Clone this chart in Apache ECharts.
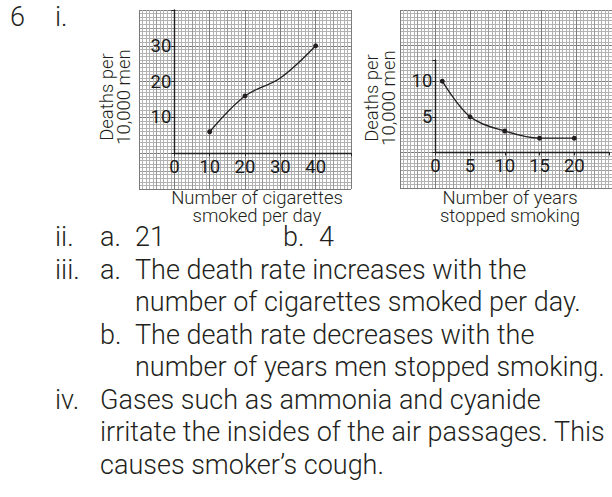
<!DOCTYPE html>
<html>
<head>
<meta charset="utf-8">
<script src="https://cdn.jsdelivr.net/npm/echarts@6/dist/echarts.min.js"></script>
<style>
  html, body { margin: 0; padding: 0; background: #fff; }
  #chart { width: 612px; height: 497px; }
</style>
</head>
<body>
<div id="chart"></div>
<script>
// Graph 1: deaths vs cigarettes smoked per day
const cigarettes = [10, 20, 30, 40];
const deathsByCigarettes = [6, 16, 21, 30];
const cigarettesMarked = [true, true, false, true];
const cigTicksX = [0, 10, 20, 30, 40];
const cigTicksY = [10, 20, 30];

// Graph 2: deaths vs years since stopping
const yearsStopped = [1, 5, 10, 15, 20];
const deathsByYears = [10, 5, 3, 2, 2];
const yearTicksX = [0, 5, 10, 15, 20];
const yearTicksY = [5, 10];

const FONT = 'Roboto, "Liberation Sans", sans-serif';
const INK = '#231f20';

const chart = echarts.init(document.getElementById('chart'), null, { renderer: 'svg' });

// graph paper: 60 x 50 small squares, darker every 5th and 10th line
const paperColors = ['#7c7c7c', '#b2b2b2', '#b2b2b2', '#b2b2b2', '#b2b2b2',
                     '#9a9a9a', '#b2b2b2', '#b2b2b2', '#b2b2b2', '#b2b2b2'];
function paperAxis(max, gridIndex) {
  return {
    type: 'value', gridIndex, min: 0, max, interval: 1, z: 0,
    axisLine: { show: false }, axisTick: { show: false }, axisLabel: { show: false },
    splitLine: { show: true, lineStyle: { color: paperColors, width: 1 } }
  };
}

function labelStyle(ticks, margin) {
  return {
    show: true, margin, color: '#1a1a1a', fontFamily: FONT, fontSize: 18.5, fontWeight: 400,
    formatter: v => (ticks.indexOf(v) >= 0 ? String(v) : '')
  };
}
function dataAxis(gridIndex, max, interval, ticks, margin) {
  return {
    type: 'value', gridIndex, min: 0, max, interval, z: 5,
    axisLine: { show: true, onZero: false, lineStyle: { color: INK, width: 1.4 } },
    axisTick: { show: true, inside: false, length: 3, lineStyle: { color: INK, width: 1 } },
    axisLabel: labelStyle(ticks, margin),
    splitLine: { show: false }
  };
}

const SQ_W = 212 / 60;
const leftPaper = { left: 139, top: 10, width: 212, height: 179 };
const rightPaper = { left: 400, top: 10, width: 212, height: 178 };
const sqHL = leftPaper.height / 50;
const sqHR = rightPaper.height / 50;
const leftData = {
  left: leftPaper.left + 10 * SQ_W, top: leftPaper.top,
  width: 50 * SQ_W, height: 40 * sqHL
};
const rightYMax = 13;
const rightData = {
  left: rightPaper.left + 10 * SQ_W,
  top: rightPaper.top + 40 * sqHR - rightYMax * 2 * sqHR,
  width: 50 * SQ_W, height: rightYMax * 2 * sqHR
};

function curve(xs, ys, marked, xi, yi, smooth) {
  return {
    type: 'line', xAxisIndex: xi, yAxisIndex: yi,
    data: xs.map((x, i) => ({
      value: [x, ys[i]],
      symbol: marked && !marked[i] ? 'none' : 'circle'
    })),
    smooth, symbolSize: 5, showSymbol: true,
    lineStyle: { color: INK, width: 1.3 },
    itemStyle: { color: INK },
    z: 6, animation: false
  };
}

const textEl = (txt, x, y, size, extra) => ({
  type: 'text', x, y, z: 10,
  style: Object.assign({
    text: txt, fill: INK, font: `300 ${size}px ${FONT}`, verticalAlign: 'middle'
  }, extra || {})
});

const body = [
  ['6', 10, 17], ['i.', 55, 17],
  ['ii.', 55, 237], ['a.', 100, 237], ['21', 135, 237], ['b.', 283, 237], ['4', 319, 237],
  ['iii.', 55, 270], ['a.', 100, 270], ['The death rate increases with the', 135, 270],
  ['number of cigarettes smoked per day.', 135, 302],
  ['b.', 100, 335], ['The death rate decreases with the', 135, 335],
  ['number of years men stopped smoking.', 135, 367],
  ['iv.', 55, 400], ['Gases such as ammonia and cyanide', 100, 400],
  ['irritate the insides of the air passages. This', 100, 432],
  ['causes smoker\u2019s cough.', 100, 465]
];

const graphics = body.map(([t, x, y]) => textEl(t, x, y, 27, { lineHeight: 22 }));
const yTitle = 'Deaths per\n10,000 men';
graphics.push(
  Object.assign(textEl(yTitle, 115, 97, 18.5, { align: 'center', lineHeight: 17 }),
    { rotation: Math.PI / 2 }),
  textEl('Number of cigarettes\nsmoked per day', 257, 207, 18.5,
    { align: 'center', lineHeight: 18 }),
  Object.assign(textEl(yTitle, 380, 98, 18.5, { align: 'center', lineHeight: 17 }),
    { rotation: Math.PI / 2 }),
  textEl('Number of years\nstopped smoking', 510, 207, 18.5,
    { align: 'center', lineHeight: 18 })
);

chart.setOption({
  animation: false,
  backgroundColor: '#fff',
  grid: [leftPaper, rightPaper, leftData, rightData].map(g =>
    Object.assign({ containLabel: false }, g)),
  xAxis: [
    paperAxis(60, 0), paperAxis(60, 1),
    dataAxis(2, 50, 10, cigTicksX, 4), dataAxis(3, 25, 5, yearTicksX, 4)
  ],
  yAxis: [
    paperAxis(50, 0), paperAxis(50, 1),
    dataAxis(2, 40, 10, cigTicksY, 3), dataAxis(3, rightYMax, 5, yearTicksY, 3)
  ],
  series: [
    curve(cigarettes, deathsByCigarettes, cigarettesMarked, 2, 2, 0.35),
    curve(yearsStopped, deathsByYears, null, 3, 3, 0.35)
  ],
  graphic: graphics
});
</script>
</body>
</html>
